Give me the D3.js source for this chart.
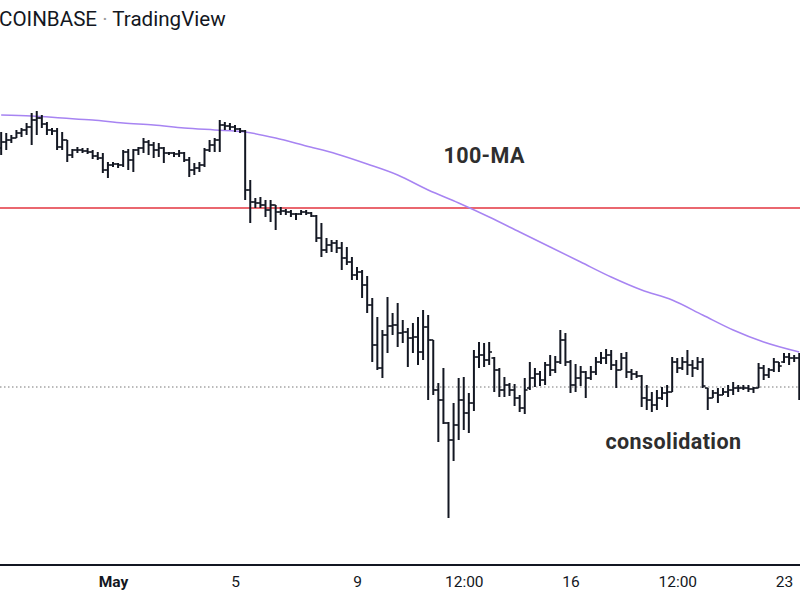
<!DOCTYPE html>
<html><head><meta charset="utf-8">
<script src="https://cdn.jsdelivr.net/npm/d3@7"></script>
<style>html,body{margin:0;padding:0;background:#fff;overflow:hidden}</style>
</head><body>
<svg id="chart" width="800" height="600"></svg>
<script>
// 4-hour OHLC bars, first bar at 2022-04-27 08:00 UTC
const startTime = Date.UTC(2022, 3, 27, 8, 0);
const opens = [2556,2574,2580,2586,2601,2610,2619,2640,2646,2628,2610,2607,2559,2580,2535,2550,2550,2547,2544,2532,
2526,2490,2505,2508,2505,2544,2520,2550,2556,2574,2565,2550,2556,2541,2541,2538,2541,2520,2490,2496,
2505,2550,2565,2580,2625,2622,2619,2613,2607,2430,2394,2391,2385,2370,2385,2364,2367,2364,2358,2358,
2364,2361,2352,2286,2250,2265,2271,2256,2226,2214,2175,2184,2145,2085,1965,1896,1995,2022,2025,2001,
2004,1986,1989,1944,2019,1980,1830,1800,1731,1680,1725,1800,1761,1791,1929,1935,1920,1926,1890,1830,
1845,1830,1806,1776,1836,1866,1878,1860,1905,1890,1914,1980,1914,1845,1866,1884,1866,1884,1914,1926,
1935,1905,1890,1926,1884,1878,1872,1806,1800,1785,1806,1821,1824,1914,1896,1914,1905,1896,1914,1836,
1806,1821,1815,1824,1830,1836,1836,1836,1833,1836,1896,1875,1890,1914,1914,1929,1926,1926];
const highs = [2604,2601,2595,2610,2616,2631,2661,2667,2655,2634,2616,2616,2604,2580,2553,2559,2556,2556,2550,2544,
2541,2514,2514,2511,2550,2553,2553,2559,2586,2580,2574,2571,2559,2544,2544,2550,2544,2529,2511,2514,
2556,2580,2586,2640,2634,2631,2625,2616,2610,2460,2406,2409,2400,2400,2385,2379,2373,2370,2361,2370,
2370,2364,2355,2331,2286,2280,2280,2274,2259,2229,2199,2190,2172,2106,2049,2010,2109,2061,2091,2040,
2016,2031,2049,2070,2055,1980,1851,1896,1734,1791,1866,1869,1821,1950,1974,1971,1974,1929,1896,1869,
1851,1848,1815,1866,1914,1896,1887,1914,1935,1932,2010,2001,1920,1908,1902,1887,1902,1929,1944,1953,
1950,1920,1941,1944,1893,1887,1875,1845,1824,1830,1839,1845,1929,1926,1929,1950,1920,1929,1926,1836,
1830,1836,1836,1845,1854,1845,1845,1845,1839,1911,1905,1896,1926,1914,1941,1941,1935,1941];
const lows = [2535,2550,2571,2586,2589,2595,2565,2595,2616,2595,2595,2550,2550,2514,2526,2541,2541,2538,2523,2520,
2481,2466,2499,2496,2499,2490,2484,2535,2541,2535,2526,2529,2511,2535,2529,2529,2514,2469,2475,2484,
2499,2544,2544,2544,2610,2610,2604,2601,2400,2331,2376,2376,2349,2334,2310,2355,2355,2349,2340,2355,
2355,2349,2274,2229,2241,2244,2241,2190,2205,2160,2160,2106,2061,1914,1890,1866,1941,1995,1959,1971,
1899,1941,1905,1920,1800,1815,1674,1728,1446,1617,1680,1710,1701,1767,1896,1899,1905,1824,1809,1809,
1812,1782,1764,1758,1830,1839,1842,1845,1872,1881,1908,1902,1821,1824,1842,1806,1860,1875,1908,1908,
1890,1836,1890,1866,1860,1866,1779,1770,1764,1770,1800,1779,1824,1881,1890,1875,1869,1890,1836,1770,
1806,1791,1815,1809,1815,1824,1830,1824,1821,1836,1860,1866,1884,1884,1911,1905,1914,1800];
const closes = [2574,2580,2586,2601,2610,2619,2640,2646,2628,2610,2607,2559,2580,2535,2550,2550,2547,2544,2532,2526,
2490,2505,2508,2505,2544,2520,2550,2556,2574,2565,2550,2556,2541,2541,2538,2541,2520,2490,2496,2505,
2550,2565,2580,2625,2622,2619,2613,2607,2430,2394,2391,2385,2370,2385,2364,2367,2364,2358,2358,2364,
2361,2352,2286,2250,2265,2271,2256,2226,2214,2175,2184,2145,2085,1965,1896,1995,2022,2025,2001,2004,
1986,1989,1944,2019,1980,1830,1800,1731,1680,1725,1800,1761,1791,1929,1935,1920,1944,1890,1830,1845,
1830,1806,1776,1830,1866,1878,1860,1905,1890,1914,1980,1914,1845,1866,1884,1866,1884,1914,1926,1935,
1905,1890,1926,1884,1878,1872,1806,1800,1785,1806,1821,1824,1914,1896,1914,1905,1896,1914,1842,1806,
1821,1815,1824,1830,1836,1836,1836,1833,1836,1896,1875,1890,1914,1902,1929,1926,1926,1806];

// 100-period moving average, sampled every 6 bars (last point at bar 157)
const maBars = [0,6,12,18,24,30,36,42,48,54,60,66,72,78,84,90,96,102,108,114,120,126,132,138,144,150,157];
const maValues = [2655,2652,2646,2640,2631,2625,2616,2610,2604,2586,2562,2538,2508,2475,2430,2391,2349,2304,2259,2214,2169,2130,2100,2055,2010,1974,1944];

const redLevel = 2376;
const dottedLevel = 1839;

const tickDates = [Date.UTC(2022,4,1), Date.UTC(2022,4,5), Date.UTC(2022,4,9), Date.UTC(2022,4,12,12), Date.UTC(2022,4,16), Date.UTC(2022,4,19,12), Date.UTC(2022,4,23)];
const tickLabels = ["May","5","9","12:00","16","12:00","23"];

const annotations = [
  {text:"100-MA", time: Date.UTC(2022,4,13,4), price: 2535},
  {text:"consolidation", time: Date.UTC(2022,4,19,9), price: 1677}
];

const bars = opens.map((o,i)=>({t:new Date(startTime + i*4*3600e3), o, h:highs[i], l:lows[i], c:closes[i]}));

const svg = d3.select("#chart");
const W = 800, H = 600;

const x = d3.scaleUtc()
  .domain([new Date(Date.UTC(2022,4,1)), new Date(Date.UTC(2022,4,23))])
  .range([113, 784]);
const y = d3.scaleLinear().domain([1200, 3000]).range([600, 0]);

const ink = "#131722";

// title
const title = svg.append("text").attr("x", -1).attr("y", 26)
  .attr("font-family", "Roboto, 'Liberation Sans', sans-serif").attr("font-size", 20.6).attr("fill", ink);
title.append("tspan").text("COINBASE ");
title.append("tspan").attr("fill", "#9a9a9a").text("·");
title.append("tspan").text(" TradingView");

// red horizontal level
svg.append("line").attr("x1", 0).attr("x2", W)
  .attr("y1", y(redLevel)).attr("y2", y(redLevel))
  .attr("stroke", "#e3343f").attr("stroke-width", 1.3);

// dotted level
svg.append("line").attr("x1", 0).attr("x2", W)
  .attr("y1", y(dottedLevel)).attr("y2", y(dottedLevel))
  .attr("stroke", "#777").attr("stroke-width", 1).attr("stroke-dasharray", "1.5,2.5");

// MA line
const maLine = d3.line()
  .x(d => x(new Date(startTime + d[0]*4*3600e3)))
  .y(d => y(d[1]))
  .curve(d3.curveMonotoneX);
svg.append("path")
  .datum(maBars.map((b,i)=>[b, maValues[i]]))
  .attr("d", maLine)
  .attr("fill", "none").attr("stroke", "#a784f2").attr("stroke-width", 1.5);

// OHLC bars
const tick = 2.8;
const g = svg.append("g").attr("stroke", ink).attr("stroke-width", 2);
const barG = g.selectAll("g.bar").data(bars).join("g").attr("class","bar");
barG.append("line").attr("x1", d=>x(d.t)).attr("x2", d=>x(d.t)).attr("y1", d=>y(d.h)).attr("y2", d=>y(d.l));
barG.append("line").attr("x1", d=>x(d.t)-tick).attr("x2", d=>x(d.t)).attr("y1", d=>y(d.o)).attr("y2", d=>y(d.o)).attr("stroke-width", 1.6);
barG.append("line").attr("x1", d=>x(d.t)).attr("x2", d=>x(d.t)+tick).attr("y1", d=>y(d.c)).attr("y2", d=>y(d.c)).attr("stroke-width", 1.6);

// annotations
svg.selectAll("text.ann").data(annotations).join("text").attr("class","ann")
  .attr("x", d=>x(new Date(d.time))).attr("y", d=>y(d.price))
  .attr("text-anchor","middle").attr("dominant-baseline","central")
  .attr("font-family", "Roboto, 'Liberation Sans', sans-serif").attr("font-weight", "bold")
  .attr("font-size", 21.5).attr("letter-spacing", 0.4).attr("fill", "#2e2e2e").text(d=>d.text);

// time axis
svg.append("line").attr("x1", 0).attr("x2", W).attr("y1", 565).attr("y2", 565)
  .attr("stroke", ink).attr("stroke-width", 2);
const axis = d3.axisBottom(x).tickValues(tickDates.map(d=>new Date(d)))
  .tickFormat((d,i)=>tickLabels[i]).tickSize(0).tickPadding(11);
const ax = svg.append("g").attr("transform", "translate(0,565)").call(axis);
ax.select(".domain").remove();
ax.selectAll("text").attr("font-family", "Roboto, 'Liberation Sans', sans-serif")
  .attr("font-size", 15.5).attr("fill", ink)
  .attr("font-weight", (d,i)=> i===0 ? "bold" : "normal");
</script>
</body></html>
